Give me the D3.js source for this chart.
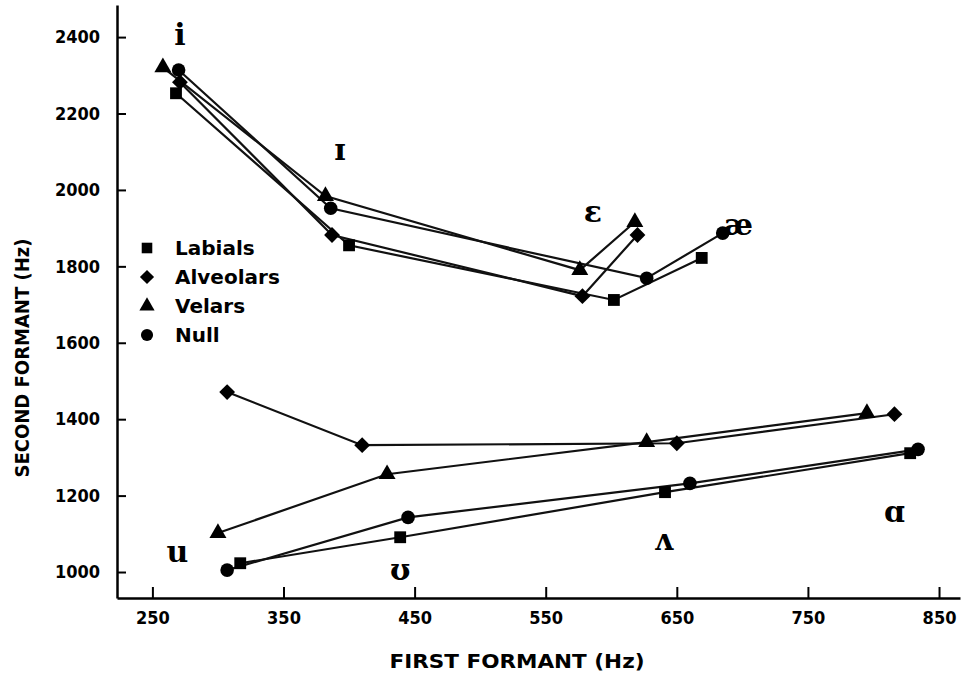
<!DOCTYPE html>
<html>
<head>
  <script src="https://d3js.org/d3.v7.min.js"></script>
  <style>
    body { margin: 0; background-color: #fff; }
    .tick-label { font-family: "DejaVu Sans Condensed", "DejaVu Sans", sans-serif; font-weight: bold; font-size: 18px; }
    .axis-title { font-family: "DejaVu Sans", sans-serif; font-weight: bold; }
    .legend-label { font-family: "DejaVu Sans", sans-serif; font-weight: bold; font-size: 20px; }
    .vowel { font-family: "DejaVu Serif", "Liberation Serif", serif; font-size: 30px; font-weight: bold; }
  </style>
</head>
<body>
  <svg id="chart" width="962" height="677"></svg>
  <script>
    // vowels
    const frontVowels = ['i', 'ɪ', 'ɛ', 'æ'];
    const backVowels = ['u', 'ʊ', 'ʌ', 'ɑ'];

    // series (first formant / second formant, Hz)
    const labialsF1Front = [268, 400, 602, 669];
    const labialsF2Front = [2253, 1855, 1712, 1822];
    const labialsF1Back = [317, 439, 641, 828];
    const labialsF2Back = [1023, 1091, 1209, 1311];

    const alveolarsF1Front = [271, 387, 578, 620];
    const alveolarsF2Front = [2282, 1882, 1722, 1882];
    const alveolarsF1Back = [307, 410, 650, 816];
    const alveolarsF2Back = [1471, 1332, 1337, 1413];

    const velarsF1Front = [258, 382, 576, 618];
    const velarsF2Front = [2321, 1984, 1790, 1916];
    const velarsF1Back = [300, 429, 627, 795];
    const velarsF2Back = [1102, 1256, 1340, 1416];

    const nullF1Front = [270, 386, 627, 685];
    const nullF2Front = [2314, 1952, 1769, 1887];
    const nullF1Back = [307, 445, 660, 834];
    const nullF2Back = [1005, 1143, 1232, 1321];

    // vowel label anchors (Hz)
    const vowelLabels = ['i', 'ɪ', 'ɛ', 'æ', 'u', 'ʊ', 'ʌ', 'ɑ'];
    const vowelLabelF1 = [271, 393, 586, 697, 269, 439, 640, 816];
    const vowelLabelF2 = [2379, 2078, 1916, 1882, 1026, 979, 1057, 1130];

    const xTicks = [250, 350, 450, 550, 650, 750, 850];
    const yTicks = [1000, 1200, 1400, 1600, 1800, 2000, 2200, 2400];

    const seriesNames = ['Labials', 'Alveolars', 'Velars', 'Null'];

    const svg = d3.select('#chart');

    const x = d3.scaleLinear().domain([223, 866]).range([117, 960]);
    const y = d3.scaleLinear().domain([932, 2484]).range([598, 5]);

    const markers = {
      Labials: { type: d3.symbolSquare, size: 140, rotate: 0 },
      Alveolars: { type: d3.symbolSquare, size: 125, rotate: 45 },
      Velars: { type: d3.symbolTriangle, size: 125, rotate: 0 },
      Null: { type: d3.symbolCircle, size: 145, rotate: 0 }
    };

    const series = [
      { name: 'Labials', front: [labialsF1Front, labialsF2Front], back: [labialsF1Back, labialsF2Back] },
      { name: 'Alveolars', front: [alveolarsF1Front, alveolarsF2Front], back: [alveolarsF1Back, alveolarsF2Back] },
      { name: 'Velars', front: [velarsF1Front, velarsF2Front], back: [velarsF1Back, velarsF2Back] },
      { name: 'Null', front: [nullF1Front, nullF2Front], back: [nullF1Back, nullF2Back] }
    ];

    // axes
    const xAxis = svg.append('g')
      .attr('transform', `translate(0, ${y(932)})`)
      .call(d3.axisBottom(x).tickValues(xTicks).tickSizeInner(-11).tickSizeOuter(0).tickPadding(13));
    xAxis.select('.domain').attr('stroke', '#000').attr('stroke-width', 2.5);
    xAxis.selectAll('.tick line').attr('stroke', '#000').attr('stroke-width', 2);
    xAxis.selectAll('.tick text').attr('class', 'tick-label').attr('fill', '#000');

    const yAxis = svg.append('g')
      .attr('transform', `translate(${x(223)}, 0)`)
      .call(d3.axisLeft(y).tickValues(yTicks).tickFormat(d3.format('d'))
        .tickSizeInner(-9).tickSizeOuter(0).tickPadding(17));
    yAxis.select('.domain').attr('stroke', '#000').attr('stroke-width', 2.5);
    yAxis.selectAll('.tick line').attr('stroke', '#000').attr('stroke-width', 2);
    yAxis.selectAll('.tick text').attr('class', 'tick-label').attr('fill', '#000');

    svg.append('text')
      .attr('class', 'axis-title')
      .attr('x', 517)
      .attr('y', 668)
      .attr('text-anchor', 'middle')
      .attr('font-size', 20)
      .attr('textLength', 255)
      .attr('lengthAdjust', 'spacingAndGlyphs')
      .text('FIRST FORMANT (Hz)');

    svg.append('text')
      .attr('class', 'axis-title')
      .attr('transform', 'translate(29, 358) rotate(-90)')
      .attr('text-anchor', 'middle')
      .attr('font-size', 19)
      .attr('textLength', 239)
      .attr('lengthAdjust', 'spacingAndGlyphs')
      .text('SECOND FORMANT (Hz)');

    const line = d3.line().x(d => x(d[0])).y(d => y(d[1]));

    // lines then markers
    series.forEach(s => {
      ['front', 'back'].forEach(part => {
        const pts = s[part][0].map((f1, i) => [f1, s[part][1][i]]);
        svg.append('path')
          .attr('d', line(pts))
          .attr('fill', 'none')
          .attr('stroke', '#111')
          .attr('stroke-width', 2.2);
      });
    });

    series.forEach(s => {
      const m = markers[s.name];
      ['front', 'back'].forEach(part => {
        const pts = s[part][0].map((f1, i) => [f1, s[part][1][i]]);
        svg.selectAll(null)
          .data(pts)
          .enter()
          .append('path')
          .attr('d', d3.symbol().type(m.type).size(m.size))
          .attr('transform', d => `translate(${x(d[0])}, ${y(d[1])}) rotate(${m.rotate})`)
          .attr('fill', '#000');
      });
    });

    // vowel labels
    svg.selectAll('.vowel')
      .data(vowelLabels)
      .enter()
      .append('text')
      .attr('class', 'vowel')
      .attr('x', (d, i) => x(vowelLabelF1[i]))
      .attr('y', (d, i) => y(vowelLabelF2[i]))
      .attr('text-anchor', 'middle')
      .text(d => d);

    // legend
    const legend = svg.append('g').attr('transform', 'translate(147, 248)');
    seriesNames.forEach((name, i) => {
      const m = markers[name];
      legend.append('path')
        .attr('d', d3.symbol().type(m.type).size(m.size * 0.8))
        .attr('transform', `translate(0, ${i * 29}) rotate(${m.rotate})`)
        .attr('fill', '#000');
      legend.append('text')
        .attr('class', 'legend-label')
        .attr('x', 28)
        .attr('y', i * 29 + 7)
        .text(name);
    });
  </script>
</body>
</html>
